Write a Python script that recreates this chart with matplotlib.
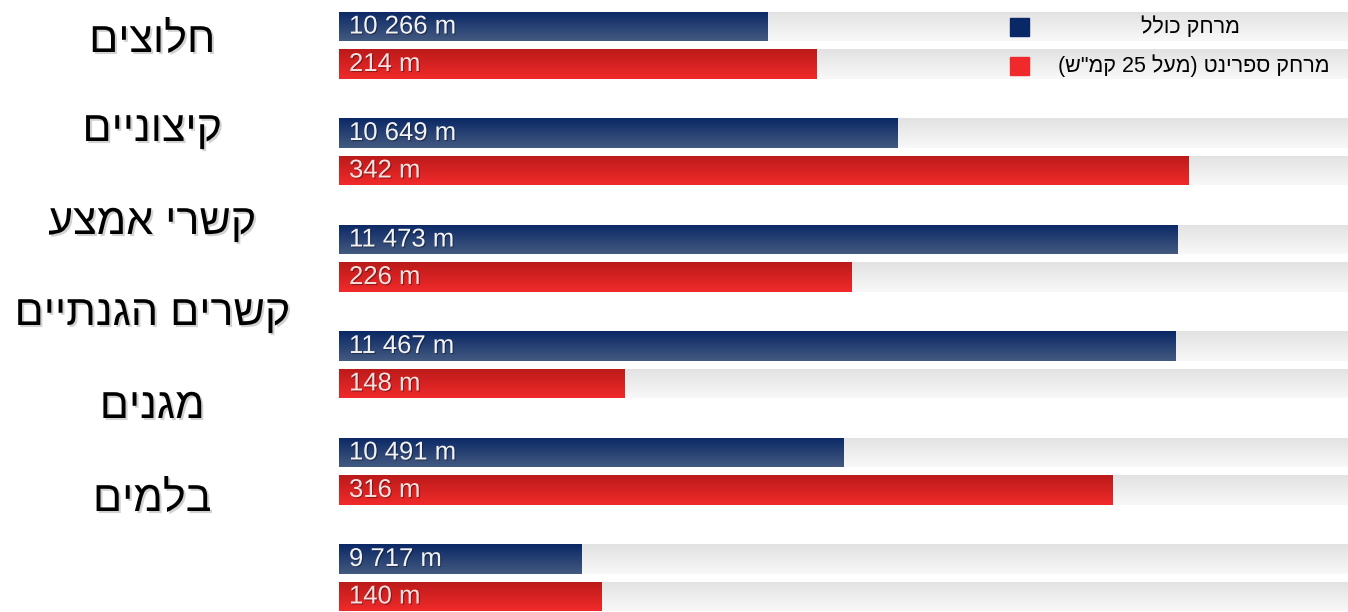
"""
Total vs. sprint distance per playing position (horizontal paired bars).
"""

import re

import numpy as np
import matplotlib
matplotlib.use("Agg")
import matplotlib.pyplot as plt
import matplotlib.patheffects as pe
from matplotlib.colors import LinearSegmentedColormap

# data
positions = ["חלוצים", "קיצוניים", "קשרי אמצע", "קשרים הגנתיים", "מגנים", "בלמים"]
total_m = [10266, 10649, 11473, 11467, 10491, 9717]
sprint_m = [214, 342, 226, 148, 316, 140]
legend_labels = ["מרחק כולל", 'מרחק ספרינט (מעל 25 קמ"ש)']

# axis windows of the original (bars do not start at zero)
total_lim = (9004, 11976)
sprint_lim = (49.7, 397)

BLUE = ("#0b2866", "#435a80")
RED = ("#bb1a1a", "#f02a2a")
TRACK = ("#e2e2e2", "#f8f8f8")
FONTS = ["Liberation Sans", "DejaVu Sans"]


def visual(s):
    # matplotlib lays glyphs out left to right, so put RTL text in display order
    out = s[::-1].translate(str.maketrans("()", ")("))
    return re.sub(r"\d+", lambda m: m.group(0)[::-1], out)


def fmt(v):
    return f"{v:,}".replace(",", " ") + " m"


def gradient_bar(axis, y, left, width, height, colors, z):
    rect = axis.barh(y, width, left=left, height=height, color=colors[1],
                     linewidth=0, zorder=z)[0]
    cmap = LinearSegmentedColormap.from_list("g", list(colors))
    img = axis.imshow(np.linspace(0, 1, 64).reshape(-1, 1), cmap=cmap,
                      extent=(left, left + width, y + height / 2, y - height / 2),
                      aspect="auto", origin="upper", zorder=z + 0.1,
                      interpolation="bilinear")
    img.set_clip_path(rect)
    return rect


fig = plt.figure(figsize=(13.48, 6.12), dpi=100)
fig.patch.set_facecolor("white")

ax = fig.add_axes([339 / 1348, 0, 1009 / 1348, 1])
ax2 = ax.twiny()
for a in (ax, ax2):
    a.set_axis_off()
    a.patch.set_visible(False)

shadow = [pe.SimplePatchShadow(offset=(0.8, -0.8), shadow_rgbFace="black", alpha=0.35),
          pe.Normal()]

off, h = 0.176, 0.277
for i, (t, s) in enumerate(zip(total_m, sprint_m)):
    yb, yr = i - off, i + off
    # background tracks
    gradient_bar(ax, yb, total_lim[0], total_lim[1] - total_lim[0], h, TRACK, 1)
    gradient_bar(ax, yr, total_lim[0], total_lim[1] - total_lim[0], h, TRACK, 1)
    # value bars
    gradient_bar(ax, yb, total_lim[0], t - total_lim[0], h, BLUE, 3)
    gradient_bar(ax2, yr, sprint_lim[0], s - sprint_lim[0], h, RED, 3)

    ax.text(10 / 1009, yb, fmt(t), transform=ax.get_yaxis_transform(),
            color="#f2f2f2", fontsize=18.5, family=FONTS, va="center", ha="left",
            zorder=5, path_effects=shadow)
    ax2.text(10 / 1009, yr, fmt(s), transform=ax2.get_yaxis_transform(),
             color="#f6e2e2", fontsize=18.5, family=FONTS, va="center", ha="left",
             zorder=5, path_effects=shadow)

for a, lim in ((ax, total_lim), (ax2, sprint_lim)):
    a.set_xlim(*lim)
    a.set_ylim(5.322, -0.425)

# position labels on the left
label_base = [52, 141, 234, 325, 418, 511]
for name, yb in zip(positions, label_base):
    fig.text(152 / 1348, 1 - yb / 612, visual(name), ha="center", va="baseline",
             fontsize=31, family=FONTS, color="black",
             path_effects=[pe.SimplePatchShadow(offset=(1.5, -1.5), shadow_rgbFace="gray",
                                                alpha=0.35), pe.Normal()])

# legend
leg_y = [27, 66]
leg_x = [1240, 1330]
for (lab, col, yy, xr) in zip(legend_labels, [BLUE[0], RED[1]], leg_y, leg_x):
    fig.patches.append(plt.Rectangle((1010 / 1348, 1 - (yy + 9) / 612), 19 / 1348, 18 / 612,
                                     transform=fig.transFigure, color=col, zorder=10))
    fig.text(xr / 1348, 1 - yy / 612, visual(lab), ha="right", va="center",
             fontsize=15.5, family=FONTS, color="black", zorder=10)

fig.savefig("out.png", dpi=100, facecolor="white")
